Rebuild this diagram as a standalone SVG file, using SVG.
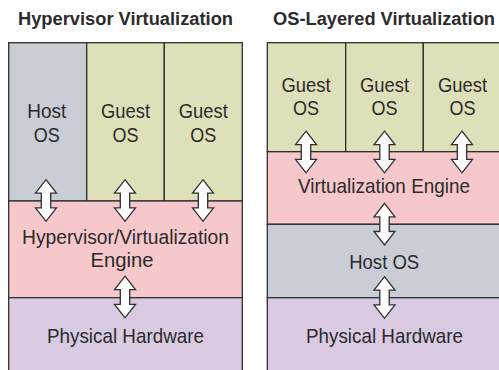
<svg xmlns="http://www.w3.org/2000/svg" width="499" height="370" viewBox="0 0 499 370">
<style>
.box{stroke:#2f2f2f;stroke-width:1.3}
.host{fill:#c9cdd5}
.guest{fill:#dee0b9}
.eng{fill:#f6c8cb}
.hw{fill:#d9cae2}
.t{font-family:"Liberation Sans",Arial,sans-serif;font-size:21px;fill:#2b2b2b;text-anchor:middle}
.title{font-family:"Liberation Sans",Arial,sans-serif;font-size:17.5px;font-weight:bold;fill:#2b2b2b;text-anchor:middle}
.arr{fill:#ffffff;stroke:#2f2f2f;stroke-width:1.3;stroke-linejoin:miter}
</style>
<defs>
<path id="dbl" class="arr" d="M0,-20.8 L10.5,-7.3 L4.7,-7.3 L4.7,7.3 L10.5,7.3 L0,20.8 L-10.5,7.3 L-4.7,7.3 L-4.7,-7.3 L-10.5,-7.3 Z"/>
</defs>
<rect width="499" height="370" fill="#ffffff"/>
<text class="title" x="125.5" y="24.5" textLength="215" lengthAdjust="spacingAndGlyphs">Hypervisor Virtualization</text>
<text class="title" x="384" y="24.5" textLength="222" lengthAdjust="spacingAndGlyphs">OS-Layered Virtualization</text>

<g id="hv-host">
<rect class="box host" x="8.7" y="42.7" width="78" height="158.3"/>
<text class="t" x="46.7" y="118.3" textLength="39" lengthAdjust="spacingAndGlyphs">Host</text>
<text class="t" x="46.7" y="141.7" textLength="26" lengthAdjust="spacingAndGlyphs">OS</text>
</g>
<g id="hv-guest1">
<rect class="box guest" x="86.7" y="42.7" width="77.6" height="158.3"/>
<text class="t" x="125.5" y="118.3" textLength="49" lengthAdjust="spacingAndGlyphs">Guest</text>
<text class="t" x="125.5" y="141.7" textLength="26" lengthAdjust="spacingAndGlyphs">OS</text>
</g>
<g id="hv-guest2">
<rect class="box guest" x="164.3" y="42.7" width="78" height="158.3"/>
<text class="t" x="203.3" y="118.3" textLength="49" lengthAdjust="spacingAndGlyphs">Guest</text>
<text class="t" x="203.3" y="141.7" textLength="26" lengthAdjust="spacingAndGlyphs">OS</text>
</g>
<g id="hv-engine">
<rect class="box eng" x="8.7" y="201" width="233.6" height="96.7"/>
<text class="t" x="125.5" y="244" textLength="207" lengthAdjust="spacingAndGlyphs">Hypervisor/Virtualization</text>
<text class="t" x="122" y="266.7" textLength="63" lengthAdjust="spacingAndGlyphs">Engine</text>
</g>
<g id="hv-hw">
<rect class="box hw" x="8.7" y="297.7" width="233.6" height="90"/>
<text class="t" x="125.5" y="342.7" textLength="157" lengthAdjust="spacingAndGlyphs">Physical Hardware</text>
</g>

<g id="ol-guest1">
<rect class="box guest" x="267.3" y="42.7" width="78.4" height="109"/>
<text class="t" x="306" y="91.7" textLength="49" lengthAdjust="spacingAndGlyphs">Guest</text>
<text class="t" x="306" y="115" textLength="26" lengthAdjust="spacingAndGlyphs">OS</text>
</g>
<g id="ol-guest2">
<rect class="box guest" x="345.7" y="42.7" width="77.6" height="109"/>
<text class="t" x="384.5" y="91.7" textLength="49" lengthAdjust="spacingAndGlyphs">Guest</text>
<text class="t" x="384.5" y="115" textLength="26" lengthAdjust="spacingAndGlyphs">OS</text>
</g>
<g id="ol-guest3">
<rect class="box guest" x="423.3" y="42.7" width="80" height="109"/>
<text class="t" x="462.5" y="91.7" textLength="49" lengthAdjust="spacingAndGlyphs">Guest</text>
<text class="t" x="462.5" y="115" textLength="26" lengthAdjust="spacingAndGlyphs">OS</text>
</g>
<g id="ol-engine">
<rect class="box eng" x="267.3" y="151.7" width="236" height="72.6"/>
<text class="t" x="384" y="193" textLength="172" lengthAdjust="spacingAndGlyphs">Virtualization Engine</text>
</g>
<g id="ol-host">
<rect class="box host" x="267.3" y="224.3" width="236" height="73.4"/>
<text class="t" x="384.2" y="269.3" textLength="70" lengthAdjust="spacingAndGlyphs">Host OS</text>
</g>
<g id="ol-hw">
<rect class="box hw" x="267.3" y="297.7" width="236" height="90"/>
<text class="t" x="384.5" y="342.7" textLength="157" lengthAdjust="spacingAndGlyphs">Physical Hardware</text>
</g>

<g id="connectors">
<use href="#dbl" x="46" y="200.5"/>
<use href="#dbl" x="125" y="200.5"/>
<use href="#dbl" x="203" y="200.5"/>
<use href="#dbl" x="125" y="297"/>
<use href="#dbl" x="306" y="152"/>
<use href="#dbl" x="384.5" y="152"/>
<use href="#dbl" x="462" y="152"/>
<use href="#dbl" x="384.5" y="224.2"/>
<use href="#dbl" x="384.5" y="297.5"/>
</g>
</svg>
